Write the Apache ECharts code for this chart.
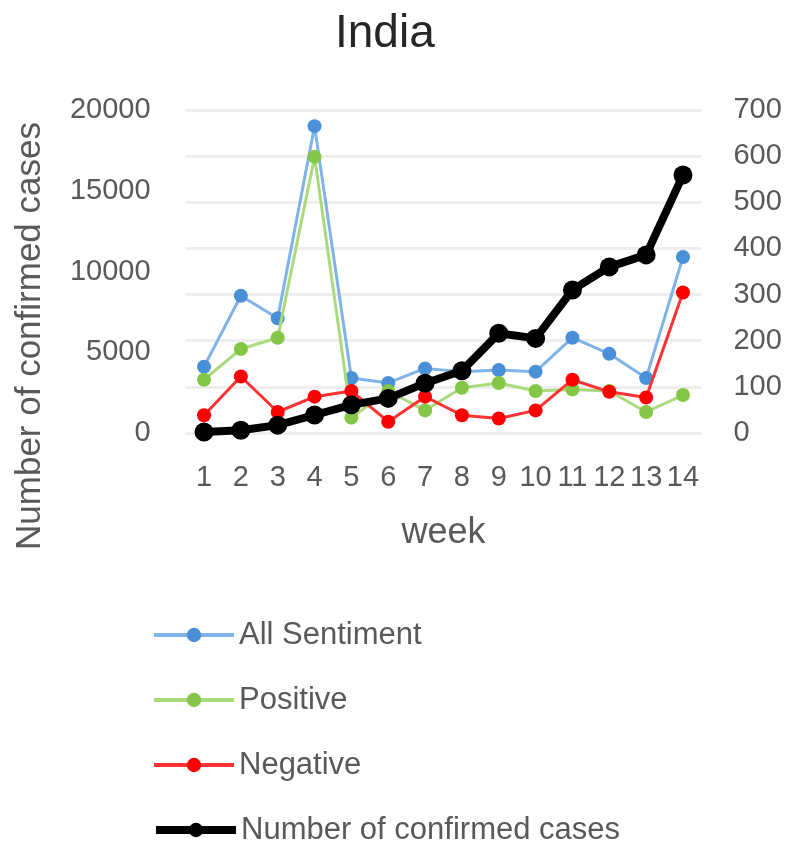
<!DOCTYPE html>
<html>
<head>
<meta charset="utf-8">
<script src="https://cdn.jsdelivr.net/npm/echarts@6/dist/echarts.min.js"></script>
<style>html,body{margin:0;padding:0;background:#fff}#c{width:792px;height:842px}</style>
</head>
<body>
<div id="c"></div>
<script>
const weeks = ['1','2','3','4','5','6','7','8','9','10','11','12','13','14'];
const allSentiment = [4100, 8500, 7100, 19000, 3400, 3100, 4000, 3800, 3900, 3800, 5900, 4900, 3400, 10900];
const positive = [3300, 5200, 5900, 17100, 950, 2600, 1400, 2800, 3100, 2600, 2700, 2600, 1300, 2350];
const negative = [1100, 3500, 1300, 2250, 2600, 700, 2250, 1100, 900, 1400, 3300, 2550, 2200, 8700];
const confirmed = [2, 6, 17, 39, 61, 75, 108, 135, 216, 205, 310, 360, 386, 559];
const seriesNames = ['All Sentiment', 'Positive', 'Negative', 'Number of confirmed cases'];

const FONT = 'Liberation Sans';
const GRAY = '#595959';
const legendTops = [619, 684, 749, 814];
const legendWidths = [4, 4, 4, 8];

const chart = echarts.init(document.getElementById('c'), null, {renderer: 'canvas'});
chart.setOption({
  animation: false,
  backgroundColor: '#fff',
  title: {
    text: 'India', left: 335, top: 11, padding: 0,
    textStyle: {fontFamily: FONT, fontSize: 46, fontWeight: 'normal', color: '#262626'}
  },
  grid: {left: 185.6, right: 90.6, top: 110, bottom: 409, containLabel: false},
  legend: seriesNames.map(function (n, i) {
    return {
      orient: 'vertical', left: 152, top: legendTops[i], padding: 0,
      itemWidth: 80, itemHeight: 18, itemGap: 10,
      textStyle: {fontFamily: FONT, fontSize: 31, color: GRAY, lineHeight: 32},
      data: [{name: n, lineStyle: {width: legendWidths[i]}}]
    };
  }),
  graphic: [{
    type: 'text', x: 30, y: 336, rotation: Math.PI / 2,
    style: {text: 'Number of confirmed cases', fontFamily: FONT, fontSize: 35, fill: GRAY,
            textAlign: 'center', textVerticalAlign: 'middle'}
  }],
  xAxis: {
    type: 'category', data: weeks, boundaryGap: true,
    name: 'week', nameLocation: 'middle', nameGap: 82,
    nameTextStyle: {fontFamily: FONT, fontSize: 36, color: GRAY},
    axisLine: {show: false}, axisTick: {show: false},
    axisLabel: {interval: 0, fontFamily: FONT, fontSize: 29, color: GRAY, margin: 30}
  },
  yAxis: [{
    type: 'value', min: 0, max: 20000, interval: 5000,
    axisLine: {show: false}, axisTick: {show: false}, splitLine: {show: false},
    axisLabel: {fontFamily: FONT, fontSize: 29, color: GRAY, margin: 35,
                formatter: function (v) { return String(v); }}
  }, {
    type: 'value', min: 0, max: 700, interval: 100, position: 'right',
    axisLine: {show: false}, axisTick: {show: false},
    splitLine: {show: true, lineStyle: {color: '#eeeeee', width: 3}},
    axisLabel: {fontFamily: FONT, fontSize: 29, color: GRAY, margin: 32,
                formatter: function (v) { return String(v); }}
  }],
  series: [{
    name: seriesNames[0], type: 'line', yAxisIndex: 0, data: allSentiment,
    symbol: 'circle', symbolSize: 14, z: 2,
    lineStyle: {color: '#80b3e6', width: 3},
    itemStyle: {color: '#4a90d9'}
  }, {
    name: seriesNames[1], type: 'line', yAxisIndex: 0, data: positive,
    symbol: 'circle', symbolSize: 14, z: 3,
    lineStyle: {color: '#a9da7e', width: 3},
    itemStyle: {color: '#84c747'}
  }, {
    name: seriesNames[2], type: 'line', yAxisIndex: 0, data: negative,
    symbol: 'circle', symbolSize: 14, z: 4,
    lineStyle: {color: '#ff3333', width: 3},
    itemStyle: {color: '#ff0000'}
  }, {
    name: seriesNames[3], type: 'line', yAxisIndex: 1, data: confirmed,
    symbol: 'circle', symbolSize: 19, z: 5,
    lineStyle: {color: '#000000', width: 8},
    itemStyle: {color: '#000000'}
  }]
});
</script>
</body>
</html>
